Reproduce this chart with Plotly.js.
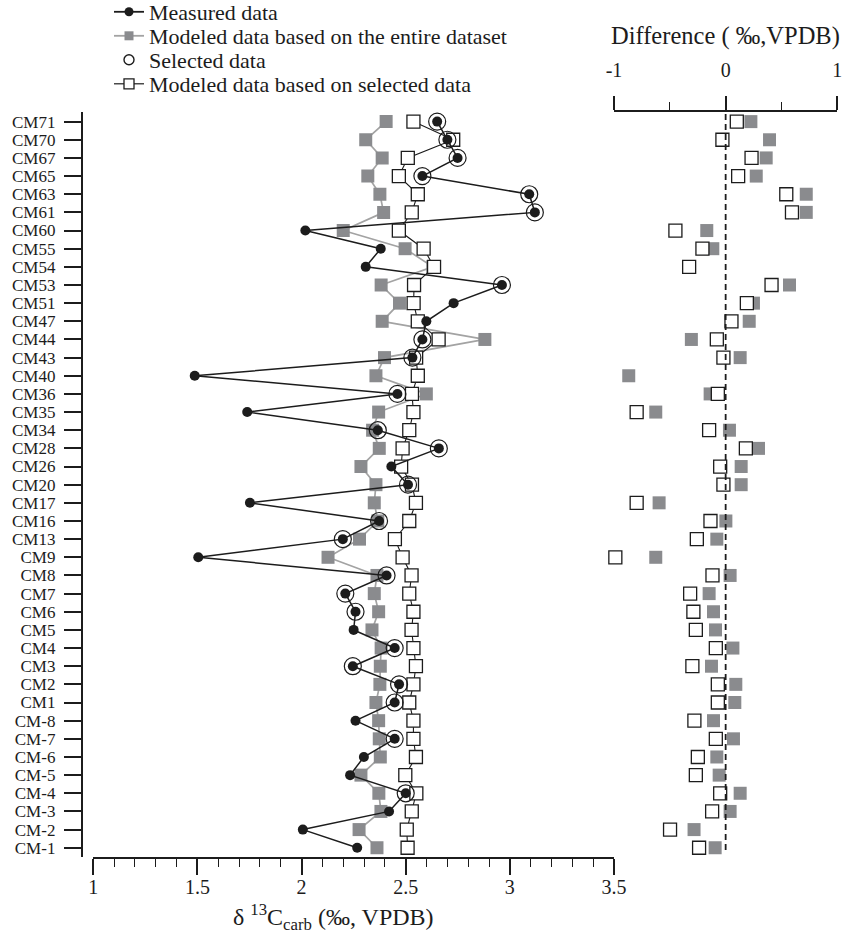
<!DOCTYPE html>
<html>
<head>
<meta charset="utf-8">
<script src="https://cdn.plot.ly/plotly-3.0.1.min.js"></script>
<style>html,body{margin:0;padding:0;background:#fff;}#chart{width:844px;height:937px;}</style>
</head>
<body>
<div id="chart"></div>
<script>
// Sample labels, top to bottom
const categories = ["CM71","CM70","CM67","CM65","CM63","CM61","CM60","CM55","CM54","CM53","CM51","CM47","CM44","CM43","CM40","CM36","CM35","CM34","CM28","CM26","CM20","CM17","CM16","CM13","CM9","CM8","CM7","CM6","CM5","CM4","CM3","CM2","CM1","CM-8","CM-7","CM-6","CM-5","CM-4","CM-3","CM-2","CM-1"];

// δ13Ccarb (‰, VPDB)
const measured = [2.651,2.700,2.749,2.580,3.093,3.120,2.018,2.380,2.308,2.962,2.730,2.599,2.580,2.532,1.487,2.460,1.739,2.366,2.659,2.431,2.511,1.752,2.372,2.198,1.504,2.408,2.210,2.259,2.250,2.447,2.246,2.468,2.447,2.259,2.447,2.299,2.233,2.500,2.420,2.006,2.267];
const modeledEntire = [2.406,2.308,2.387,2.318,2.376,2.394,2.200,2.497,2.630,2.382,2.470,2.387,2.880,2.398,2.357,2.599,2.370,2.341,2.373,2.285,2.357,2.349,2.366,2.278,2.127,2.362,2.349,2.370,2.338,2.382,2.378,2.376,2.357,2.370,2.373,2.378,2.285,2.371,2.381,2.276,2.362];
const selected = [2.651,2.700,2.749,2.580,3.093,3.120,null,null,null,2.962,null,null,2.580,2.532,null,2.460,null,2.366,2.659,null,2.511,null,2.372,2.198,null,2.408,2.210,2.259,null,2.447,2.246,2.468,2.447,null,2.447,null,null,2.500,null,null,null];
const modeledSelected = [2.537,2.728,2.510,2.467,2.558,2.529,2.467,2.586,2.636,2.540,2.538,2.558,2.658,2.550,2.558,2.530,2.537,2.517,2.485,2.478,2.530,2.549,2.517,2.448,2.485,2.528,2.517,2.537,2.528,2.537,2.549,2.537,2.517,2.537,2.537,2.549,2.498,2.551,2.529,2.505,2.509];

// Difference (‰, VPDB)
const diffEntire = [0.226,0.393,0.363,0.274,0.722,0.722,-0.169,-0.115,-0.327,0.572,0.249,0.211,-0.307,0.130,-0.868,-0.139,-0.626,0.034,0.294,0.139,0.139,-0.596,0.002,-0.079,-0.626,0.040,-0.148,-0.109,-0.091,0.065,-0.127,0.091,0.082,-0.109,0.070,-0.079,-0.058,0.130,0.040,-0.283,-0.094];
const diffSelected = [0.100,-0.029,0.232,0.112,0.543,0.594,-0.450,-0.208,-0.327,0.411,0.190,0.052,-0.079,-0.020,null,-0.070,-0.797,-0.148,0.181,-0.049,-0.020,-0.797,-0.136,-0.258,-0.988,-0.118,-0.318,-0.289,-0.267,-0.088,-0.298,-0.070,-0.070,-0.280,-0.088,-0.249,-0.267,-0.049,-0.121,-0.498,-0.238];

const bottomTicks = [1, 1.5, 2, 2.5, 3, 3.5];
const topTickVals = [-1, 0, 1];
const topTickText = ["-1", "0", "1"];
const seriesNames = ["Measured data", "Modeled data based on the entire dataset", "Selected data", "Modeled data based on selected data"];

// ---- layout helpers (pixel -> paper) ----
const W = 844, H = 937, T = 112, B = 80;
const PH = H - T - B;
const xp = px => px / W;
const yp = py => (H - B - py) / PH;

const DARK = '#1c1c1c', GREY = '#8a8b8e', GREYLINE = '#a3a3a3';
const FONT = 'Liberation Serif, Times New Roman, serif';

const traces = [
  {x: modeledEntire, y: categories, type:'scatter', mode:'lines+markers', showlegend:false,
   line:{color:GREYLINE, width:1.7}, marker:{symbol:'square', size:13, color:GREY}, xaxis:'x', yaxis:'y'},
  {x: modeledSelected, y: categories, type:'scatter', mode:'lines+markers', showlegend:false,
   line:{color:DARK, width:1.1}, marker:{symbol:'square', size:13, color:'#ffffff', line:{color:DARK, width:1.3}}, xaxis:'x', yaxis:'y'},
  {x: measured, y: categories, type:'scatter', mode:'lines+markers', showlegend:false,
   line:{color:DARK, width:1.5}, marker:{symbol:'circle', size:10, color:DARK}, xaxis:'x', yaxis:'y'},
  {x: selected, y: categories, type:'scatter', mode:'markers', showlegend:false,
   marker:{symbol:'circle-open', size:17, color:DARK, line:{width:1.2}}, xaxis:'x', yaxis:'y'},
  {x: diffEntire, y: categories, type:'scatter', mode:'markers', showlegend:false, cliponaxis:false,
   marker:{symbol:'square', size:13, color:GREY}, xaxis:'x2', yaxis:'y'},
  {x: diffSelected, y: categories, type:'scatter', mode:'markers', showlegend:false, cliponaxis:false,
   marker:{symbol:'square', size:13, color:'#ffffff', line:{color:DARK, width:1.3}}, xaxis:'x2', yaxis:'y'},
  // legend entries only (a single empty point each, nothing drawn in the plot)
  {x: [null], y: [null], type:'scatter', mode:'lines+markers', name: seriesNames[0], legend:'legend', hoverinfo:'skip',
   line:{color:DARK, width:1.8}, marker:{symbol:'circle', size:9, color:DARK}},
  {x: [null], y: [null], type:'scatter', mode:'lines+markers', name: seriesNames[1], legend:'legend2', hoverinfo:'skip',
   line:{color:GREYLINE, width:1.8}, marker:{symbol:'square', size:9, color:GREY}},
  {x: [null], y: [null], type:'scatter', mode:'markers', name: seriesNames[2], legend:'legend3', hoverinfo:'skip',
   marker:{symbol:'circle-open', size:10, color:DARK, line:{width:1.4}}},
  {x: [null], y: [null], type:'scatter', mode:'lines+markers', name: seriesNames[3], legend:'legend4', hoverinfo:'skip',
   line:{color:DARK, width:1.2}, marker:{symbol:'square', size:10, color:'#ffffff', line:{color:DARK, width:1.3}}}
];

function legendAt(py) {
  return {x: xp(109), xanchor:'left', y: yp(py), yanchor:'middle', bgcolor:'rgba(0,0,0,0)', borderwidth:0,
          font:{family:FONT, size:22, color:DARK}, itemsizing:'trace'};
}

const layout = {
  width: W, height: H,
  margin: {l:0, r:0, t:T, b:B, pad:0, autoexpand:false},
  paper_bgcolor:'#ffffff', plot_bgcolor:'rgba(0,0,0,0)',
  font:{family:FONT, color:DARK},
  showlegend:true,
  legend: legendAt(12),
  legend2: legendAt(36),
  legend3: legendAt(60),
  legend4: legendAt(84),
  xaxis: {
    domain:[xp(93.3), xp(614)], range:[1, 3.5], anchor:'y', automargin:false,
    showline:true, linewidth:1.8, linecolor:DARK, mirror:false,
    tickmode:'array', tickvals: bottomTicks, ticks:'outside', ticklen:16, tickwidth:1.6, tickcolor:DARK,
    ticklabelstandoff:-5,
    tickfont:{family:FONT, size:20, color:DARK},
    minor:{dtick:0.1, tick0:1, ticks:'outside', ticklen:8, tickwidth:1.4, tickcolor:DARK, showgrid:false},
    showgrid:false, zeroline:false
  },
  xaxis2: {
    domain:[xp(614), xp(837.3)], range:[-1, 1], anchor:'y', side:'top', automargin:false,
    showline:true, linewidth:1.8, linecolor:DARK,
    tickmode:'array', tickvals: topTickVals, ticktext: topTickText, ticks:'outside', ticklen:14, tickwidth:1.6, tickcolor:DARK,
    ticklabelstandoff: 11,
    tickfont:{family:FONT, size:20, color:DARK},
    minor:{tickmode:'array', tickvals:[-0.5, 0.5], ticks:'outside', ticklen:8, tickwidth:1.4, tickcolor:DARK, showgrid:false},
    showgrid:false, zeroline:false
  },
  yaxis: {
    type:'category', categoryorder:'array', categoryarray: categories,
    tickmode:'array', tickvals: categories, ticktext: categories,
    range:[40.51, -0.53], domain:[0,1], anchor:'free', position: xp(81.7), automargin:false,
    showline:true, linewidth:1.8, linecolor:DARK,
    ticks:'outside', ticklen:17, tickwidth:1.6, tickcolor:DARK, ticklabelstandoff:5,
    tickfont:{family:FONT, size:17, color:DARK},
    showgrid:false, zeroline:false
  },
  shapes: [
    {type:'line', xref:'x2', yref:'paper', x0:0, x1:0, y0:yp(850), y1:1,
     line:{color:DARK, width:1.8, dash:'6px,4px'}}
  ],
  annotations: [
    {xref:'paper', yref:'paper', x: xp(333), y: yp(917), xanchor:'center', yanchor:'middle', showarrow:false,
     text:'δ <sup>13</sup>C<sub>carb</sub> (‰, VPDB)', font:{family:FONT, size:24, color:DARK}},
    {xref:'paper', yref:'paper', x: xp(725.5), y: yp(36), xanchor:'center', yanchor:'middle', showarrow:false,
     text:'Difference ( ‰,VPDB)', font:{family:FONT, size:24.5, color:DARK}}
  ]
};

Plotly.newPlot('chart', traces, layout, {displayModeBar:false, responsive:false});
</script>
</body>
</html>
